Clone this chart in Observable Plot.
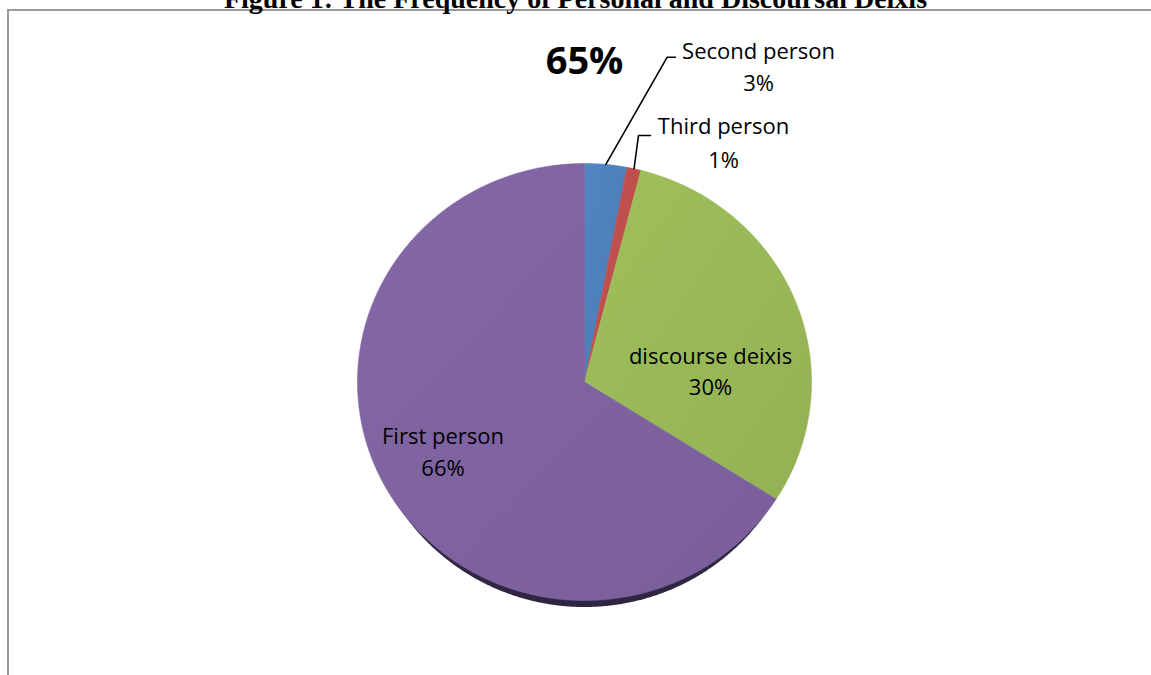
<!DOCTYPE html>
<html><head><meta charset="utf-8">
<script src="https://cdn.jsdelivr.net/npm/d3@7"></script>
<script src="https://cdn.jsdelivr.net/npm/@observablehq/plot@0.6"></script>
<style>
html,body{margin:0;padding:0;background:#fff;overflow:hidden;}
#wrap{position:relative;width:1151px;height:675px;overflow:hidden;}
#frame{position:absolute;left:7px;top:9px;width:1300px;height:900px;border-top:2px solid #9a9a9a;border-left:2px solid #9a9a9a;}
#title{position:absolute;left:0;width:1151px;top:-15px;text-align:center;font:bold 28px/28px "Liberation Serif","Times New Roman",serif;color:#000;white-space:nowrap;}
#chart{position:absolute;left:0;top:0;}
</style></head><body>
<div id="wrap"><div id="frame"></div><div id="title"></div><div id="chart"></div></div>
<script>
// ---- data ----
const titleText = "Figure 1: The Frequency of Personal and Discoursal Deixis";
const categories = ["Second person", "Third person", "discourse deixis", "First person"];
const values = [3, 1, 30, 66];
const percentLabels = ["3%", "1%", "30%", "66%"];
const sliceColors = ["#4F81BD", "#C0504D", "#9BBB59", "#8064A2"];
const strayLabel = "65%";

// ---- layout ----
const CX = 584, CY = 381.5, RX = 227, RY = 218.5, DEPTH = 6.5;
const FS = 22;
const labelLayout = {
  "Second person":   {x: 758,   b1: 58,  b2: 90},
  "Third person":    {x: 723,   b1: 133, b2: 167},
  "discourse deixis":{x: 710,   b1: 363, b2: 394},
  "First person":    {x: 442.5, b1: 443, b2: 475}
};
const leaderLayout = {
  "Second person": [[666.7, 56.7], [675, 56.7]],
  "Third person":  [[638, 135], [650, 135]]
};

document.getElementById("title").textContent = titleText;

const arcs = d3.pie().sort(null).value(d => d)(values);

function slicePoly(a0, a1, key, fill, dy = 0, rx = RX, ry = RY) {
  const n = Math.max(2, Math.ceil((a1 - a0) / (Math.PI / 360)));
  const pts = [{x: CX, y: CY + dy, key, fill}];
  for (let i = 0; i <= n; i++) {
    const a = a0 + (a1 - a0) * i / n;
    pts.push({x: CX + rx * Math.sin(a), y: CY - ry * Math.cos(a) + dy, key, fill});
  }
  pts.push({x: CX, y: CY + dy, key, fill});
  return pts;
}
const px = a => CX + RX * Math.sin(a);
const py = a => CY - RY * Math.cos(a);

const slicePts = arcs.flatMap((a, i) => slicePoly(a.startAngle, a.endAngle, categories[i], `url(#grad${i})`));
const last = arcs[arcs.length - 1];
const shadowPts = slicePoly(last.startAngle, last.endAngle, "shadow", "url(#gradShadow)", DEPTH, RX - 6, RY);

const leaderPts = arcs.flatMap((a, i) => {
  const name = categories[i];
  const lay = leaderLayout[name];
  if (!lay) return [];
  const m = (a.startAngle + a.endAngle) / 2;
  return [{x: px(m), y: py(m), key: name}, ...lay.map(([x, y]) => ({x, y, key: name}))];
});

const labelRows = categories.map((name, i) => ({
  name, pct: percentLabels[i],
  x: labelLayout[name].x,
  y1: labelLayout[name].b1 - 0.32 * FS,
  y2: labelLayout[name].b2 - 0.32 * FS
}));

const defsMark = () => {
  const g = d3.create("svg:g");
  const defs = g.append("defs");
  sliceColors.forEach((c, i) => {
    const lg = defs.append("linearGradient").attr("id", `grad${i}`)
      .attr("x1", "0").attr("y1", "0").attr("x2", "1").attr("y2", "1");
    lg.append("stop").attr("offset", "0").attr("stop-color", d3.color(c).brighter(0.08).formatHex());
    lg.append("stop").attr("offset", "1").attr("stop-color", d3.color(c).darker(0.15).formatHex());
  });
  const sg = defs.append("linearGradient").attr("id", "gradShadow")
    .attr("x1", "0").attr("y1", "0").attr("x2", "0").attr("y2", "1");
  sg.append("stop").attr("offset", "0").attr("stop-color", "#4a3b5f");
  sg.append("stop").attr("offset", "1").attr("stop-color", "#2f2541");
  return g.node();
};

const chart = Plot.plot({
  width: 1151, height: 675, margin: 0,
  x: {type: "identity", axis: null},
  y: {type: "identity", axis: null},
  color: {type: "identity"},
  style: {background: "transparent", overflow: "visible"},
  marks: [
    defsMark,
    Plot.line(shadowPts, {x: "x", y: "y", z: "key", fill: "fill", stroke: "none"}),
    Plot.line(slicePts, {x: "x", y: "y", z: "key", fill: "fill", stroke: "fill", strokeWidth: 0.6}),
    Plot.line(leaderPts, {x: "x", y: "y", z: "key", stroke: "#000", strokeWidth: 1.6}),
    Plot.text(labelRows, {x: "x", y: "y1", text: "name", fontFamily: "Open Sans", fontSize: FS, fill: "#000"}),
    Plot.text(labelRows, {x: "x", y: "y2", text: "pct", fontFamily: "Open Sans", fontSize: FS, fill: "#000"}),
    Plot.text([strayLabel], {x: () => CX, y: () => 73 - 0.32 * 38, text: d => d, fontFamily: "Open Sans", fontWeight: "bold", fontSize: 38, fill: "#000"})
  ]
});
document.getElementById("chart").appendChild(chart);
</script>
</body></html>
